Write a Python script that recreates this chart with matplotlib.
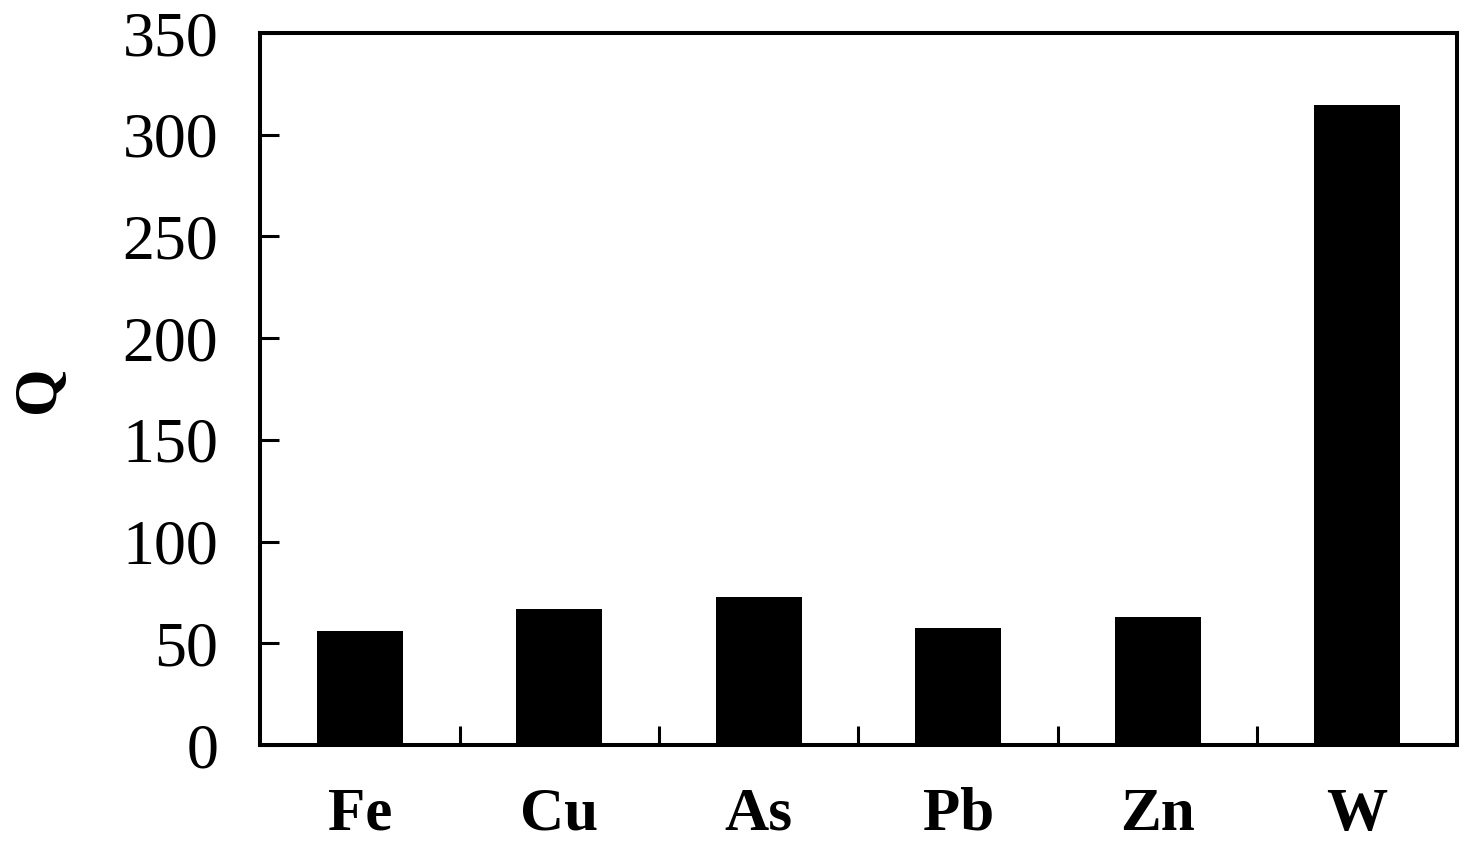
import numpy as np
import matplotlib
matplotlib.use("Agg")
from matplotlib import pyplot as plt
from matplotlib import ticker

# Data
elements = ["Fe", "Cu", "As", "Pb", "Zn", "W"]
q_values = [56, 67, 73, 57.5, 63, 314.5]
y_ticks = [0, 50, 100, 150, 200, 250, 300, 350]

plt.rcParams["font.family"] = ["Liberation Serif", "DejaVu Serif"]

fig = plt.figure(figsize=(14.64, 8.47), dpi=100)
ax = fig.add_axes([0.1776, 0.1204, 0.8176, 0.8406])

x = np.arange(len(elements))
ax.bar(x, q_values, width=0.43, color="black")

ax.set_xlim(-0.5, len(elements) - 0.5)
ax.set_ylim(0, 350)

for s in ax.spines.values():
    s.set_linewidth(2.9)

# Category labels, no major tick marks; separators as minor ticks
ax.set_xticks(x)
ax.set_xticklabels(elements, fontsize=44, fontweight="bold")
ax.tick_params(axis="x", which="major", length=0, pad=30)
ax.xaxis.set_minor_locator(ticker.FixedLocator(x[:-1] + 0.5))
ax.tick_params(axis="x", which="minor", direction="in", length=14, width=2.2)

ax.set_yticks(y_ticks)
ax.tick_params(axis="y", direction="in", length=14, width=2.2, labelsize=46, pad=30)
ax.set_ylabel("Q", fontsize=44, fontweight="bold", labelpad=40)

plt.savefig("out.png", dpi=100)
plt.close()
